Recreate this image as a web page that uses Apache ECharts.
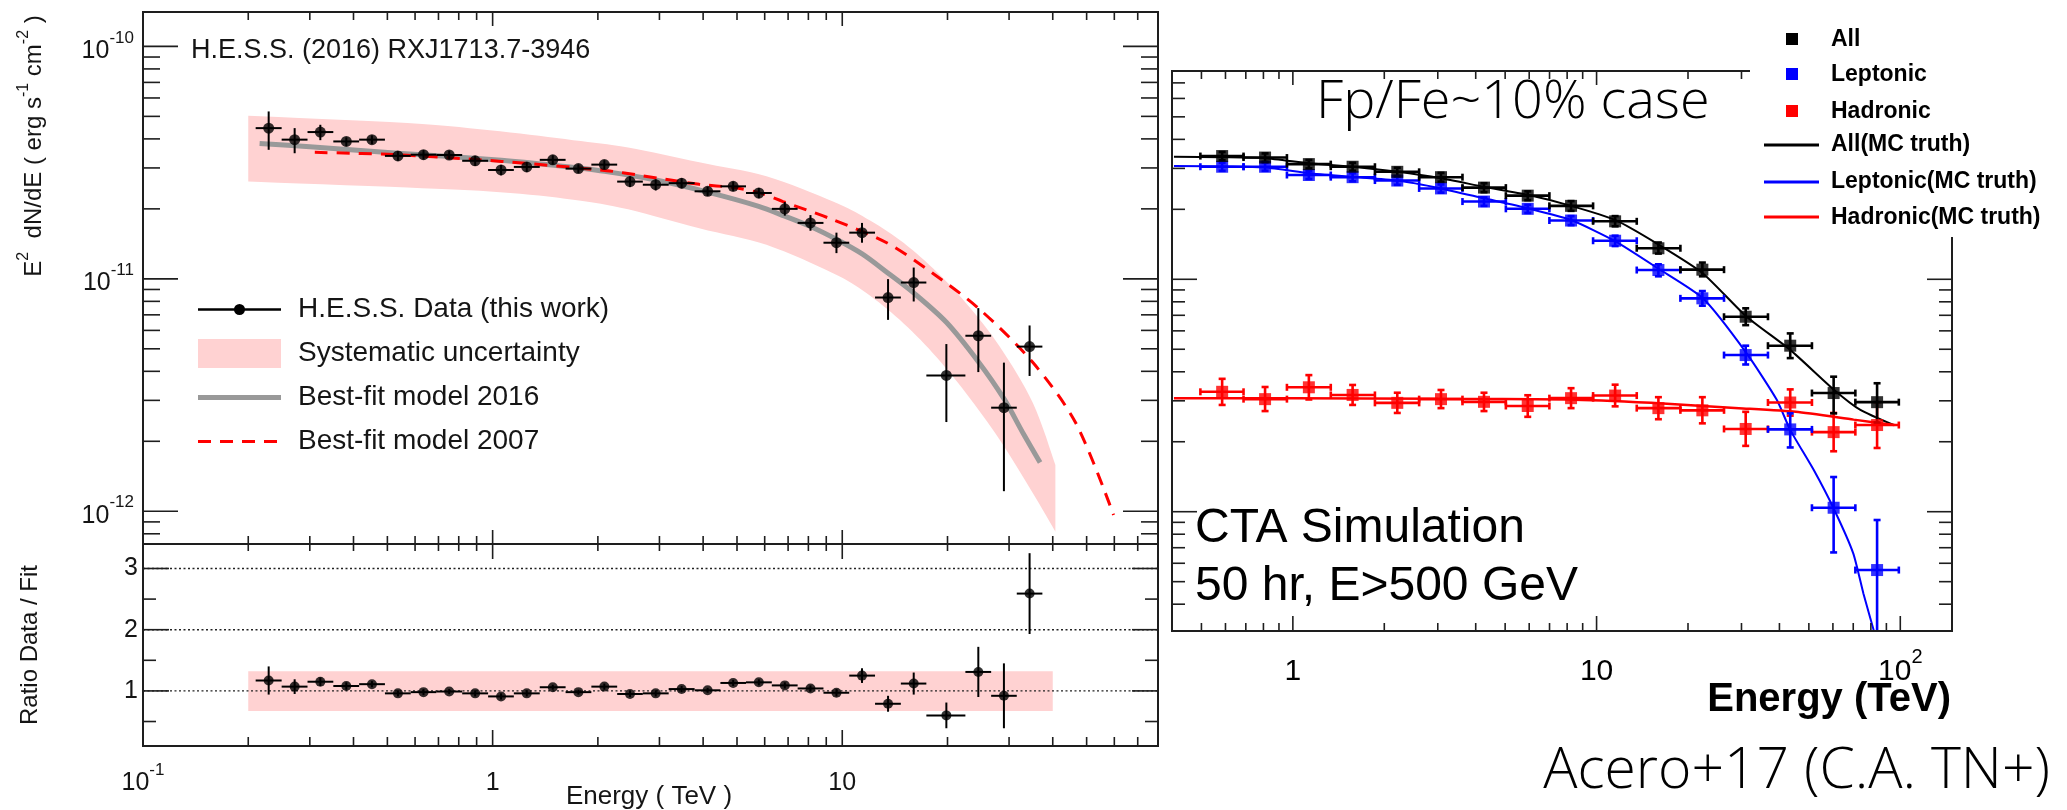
<!DOCTYPE html>
<html>
<head>
<meta charset="utf-8">
<script src="https://cdn.jsdelivr.net/npm/echarts@6.0.0/dist/echarts.min.js"></script>
<style>
html,body{margin:0;padding:0;background:#ffffff;}
#chart{width:2067px;height:810px;}
</style>
</head>
<body>
<div id="chart"></div>
<script>
// ================= DATA =================
// ---- Left: H.E.S.S. (2016) RXJ1713.7-3946, E^2 dN/dE in erg s^-1 cm^-2 ----
const hessE = [0.2288,0.2715,0.3215,0.3815,0.4517,0.5360,0.6343,0.7512,0.8913,1.057,1.252,1.486,1.759,2.087,2.471,2.927,3.472,4.120,4.875,5.773,6.850,8.111,9.625,11.39,13.52,16.01,19.85,24.50,29.00,34.34];
const hessBinEdges = [0.210,0.2492,0.2955,0.3502,0.4151,0.4920,0.5831,0.6903,0.8183,0.9706,1.150,1.364,1.617,1.916,2.271,2.689,3.188,3.782,4.482,5.305,6.288,7.454,8.836,10.47,12.41,14.71,17.40,22.50,26.66,31.56,37.36];
const hessFlux   = [4.45e-11,3.97e-11,4.28e-11,3.90e-11,3.97e-11,3.38e-11,3.42e-11,3.41e-11,3.22e-11,2.94e-11,3.03e-11,3.25e-11,2.98e-11,3.10e-11,2.62e-11,2.54e-11,2.58e-11,2.38e-11,2.50e-11,2.34e-11,2.00e-11,1.74e-11,1.43e-11,1.58e-11,8.31e-12,9.64e-12,3.84e-12,5.69e-12,2.79e-12,5.11e-12];
const hessFluxLo = [3.59e-11,3.47e-11,3.95e-11,3.72e-11,3.80e-11,3.22e-11,3.26e-11,3.26e-11,3.06e-11,2.79e-11,2.88e-11,3.10e-11,2.85e-11,2.96e-11,2.48e-11,2.40e-11,2.45e-11,2.27e-11,2.38e-11,2.22e-11,1.87e-11,1.61e-11,1.29e-11,1.43e-11,6.66e-12,7.99e-12,2.42e-12,3.97e-12,1.22e-12,3.82e-12];
const hessFluxHi = [5.25e-11,4.45e-11,4.60e-11,4.06e-11,4.14e-11,3.54e-11,3.58e-11,3.56e-11,3.38e-11,3.09e-11,3.18e-11,3.40e-11,3.11e-11,3.24e-11,2.76e-11,2.68e-11,2.71e-11,2.49e-11,2.62e-11,2.46e-11,2.14e-11,1.88e-11,1.58e-11,1.74e-11,9.97e-12,1.118e-11,5.24e-12,7.48e-12,4.36e-12,6.30e-12];
const hessRatio    = [1.17,1.07,1.15,1.08,1.11,0.96,0.98,0.99,0.96,0.91,0.96,1.06,0.98,1.07,0.95,0.96,1.03,1.01,1.13,1.14,1.09,1.04,0.97,1.25,0.79,1.12,0.60,1.31,0.92,2.59];
const hessRatioErr = [0.23,0.12,0.07,0.06,0.05,0.05,0.05,0.04,0.05,0.05,0.05,0.04,0.04,0.05,0.05,0.05,0.05,0.04,0.05,0.05,0.05,0.05,0.06,0.12,0.13,0.18,0.21,0.41,0.53,0.66];
const fit2016E = [0.2155,0.30,0.536,1.06,1.50,2.09,2.93,4.12,5.77,6.85,8.11,9.62,11.4,13.5,16.0,19.85,24.5,29.0,33.0,36.8];
const fit2016F = [3.82e-11,3.70e-11,3.47e-11,3.24e-11,3.08e-11,2.90e-11,2.66e-11,2.36e-11,2.05e-11,1.86e-11,1.68e-11,1.48e-11,1.28e-11,1.06e-11,8.7e-12,6.5e-12,4.4e-12,3.05e-12,2.15e-12,1.62e-12];
const fit2007E = [0.31,0.533,1.06,2.12,2.67,3.9,4.88,5.77,6.77,9.37,13.4,18.1,24.8,35.2,46.6,59.7];
const fit2007F = [3.50e-11,3.42e-11,3.20e-11,2.92e-11,2.78e-11,2.55e-11,2.47e-11,2.35e-11,2.15e-11,1.80e-11,1.43e-11,1.06e-11,7.36e-12,4.34e-12,2.39e-12,9.64e-13];
const sysBandE  = [0.2,0.57,1.05,1.7,2.44,3.9,6.07,9.41,11.72,14.6,18.17,22.6,28.2,35.1,40.7];
const sysBandHi = [5.03e-11,4.68e-11,4.31e-11,3.95e-11,3.67e-11,3.17e-11,2.76e-11,2.15e-11,1.82e-11,1.47e-11,1.11e-11,7.86e-12,5.11e-12,2.92e-12,1.58e-12];
const sysBandLo = [2.62e-11,2.47e-11,2.36e-11,2.19e-11,1.99e-11,1.65e-11,1.40e-11,1.058e-11,8.68e-12,6.66e-12,4.79e-12,3.22e-12,2.03e-12,1.195e-12,8.17e-13];
const ratioBandE  = [0.2,40];
const ratioBandLo = [0.67,0.67];
const ratioBandHi = [1.32,1.32];
const ratioRefLevels = [1,2,3];

// ---- Right: CTA simulation (Fp/Fe ~ 10% case) ----
const ctaE = [0.585,0.810,1.129,1.573,2.207,3.074,4.259,5.934,8.241,11.51,15.98,22.30,30.97,43.41,60.33,83.87];
const ctaBinEdges = [0.496,0.688,0.956,1.333,1.863,2.605,3.618,5.027,6.993,9.739,13.56,18.88,26.28,36.67,51.18,71.13,98.9];
const allF  = [3.39e-11,3.34e-11,3.13e-11,3.05e-11,2.90e-11,2.75e-11,2.48e-11,2.29e-11,2.07e-11,1.776e-11,1.36e-11,1.10e-11,6.90e-12,5.18e-12,3.24e-12,2.96e-12];
const allLo = [3.25e-11,3.20e-11,3.00e-11,2.93e-11,2.78e-11,2.63e-11,2.37e-11,2.19e-11,1.97e-11,1.69e-11,1.29e-11,1.03e-11,6.35e-12,4.58e-12,2.65e-12,2.42e-12];
const allHi = [3.53e-11,3.48e-11,3.26e-11,3.17e-11,3.02e-11,2.87e-11,2.59e-11,2.39e-11,2.17e-11,1.87e-11,1.44e-11,1.18e-11,7.50e-12,5.85e-12,3.81e-12,3.57e-12];
const lepF  = [3.05e-11,3.05e-11,2.81e-11,2.75e-11,2.66e-11,2.46e-11,2.16e-11,2.01e-11,1.79e-11,1.465e-11,1.096e-11,8.28e-12,4.72e-12,2.26e-12,1.04e-12,5.61e-13];
const lepLo = [2.93e-11,2.93e-11,2.70e-11,2.64e-11,2.55e-11,2.36e-11,2.07e-11,1.93e-11,1.71e-11,1.39e-11,1.03e-11,7.70e-12,4.30e-12,1.89e-12,6.68e-13,1.0e-13];
const lepHi = [3.17e-11,3.17e-11,2.92e-11,2.86e-11,2.77e-11,2.56e-11,2.25e-11,2.09e-11,1.87e-11,1.54e-11,1.16e-11,8.90e-12,5.18e-12,2.65e-12,1.41e-12,9.21e-13];
const hadF  = [3.28e-12,3.05e-12,3.43e-12,3.18e-12,2.94e-12,3.05e-12,2.97e-12,2.85e-12,3.08e-12,3.16e-12,2.79e-12,2.73e-12,2.27e-12,2.95e-12,2.20e-12,2.36e-12];
const hadLo = [2.88e-12,2.71e-12,3.04e-12,2.88e-12,2.66e-12,2.79e-12,2.71e-12,2.56e-12,2.79e-12,2.84e-12,2.50e-12,2.40e-12,1.92e-12,2.59e-12,1.82e-12,1.88e-12];
const hadHi = [3.73e-12,3.44e-12,3.87e-12,3.51e-12,3.25e-12,3.34e-12,3.25e-12,3.17e-12,3.40e-12,3.52e-12,3.11e-12,3.11e-12,2.69e-12,3.36e-12,2.66e-12,2.96e-12];
const mcAllE = [0.406,0.585,0.81,1.13,1.57,2.21,3.07,4.26,5.93,8.24,11.5,16.0,22.4,31.2,43.4,60.6,73.9,95];
const mcAllF = [3.37e-11,3.35e-11,3.32e-11,3.16e-11,3.05e-11,2.90e-11,2.72e-11,2.50e-11,2.31e-11,2.07e-11,1.80e-11,1.41e-11,1.06e-11,6.90e-12,4.97e-12,3.34e-12,2.74e-12,2.36e-12];
const mcLepE = [0.406,0.81,1.13,1.57,2.21,3.07,4.26,5.93,8.24,11.5,16.0,22.4,31.2,39.2,43.4,51.9,60.6,70.0,75.6,81.7,95];
const mcLepF = [3.07e-11,3.03e-11,2.86e-11,2.76e-11,2.66e-11,2.46e-11,2.23e-11,2.02e-11,1.80e-11,1.46e-11,1.11e-11,8.28e-12,4.80e-12,3.03e-12,2.25e-12,1.51e-12,1.02e-12,6.62e-13,4.45e-13,3.10e-13,1.5e-13];
const mcHadE = [0.406,1.0,3.0,8.0,15.1,29.4,45.3,70.2,95.6];
const mcHadF = [3.08e-12,3.08e-12,3.06e-12,3.04e-12,2.94e-12,2.79e-12,2.69e-12,2.49e-12,2.36e-12];

// ---- tick values ----
const leftXMajor = [0.1,1,10];
const leftXMinor = [0.2,0.3,0.4,0.5,0.6,0.7,0.8,0.9,2,3,4,5,6,7,8,9,20,30,40,50,60,70];
const leftYMajor = [1e-12,1e-11,1e-10];
const leftYMinor = [8e-13,9e-13,2e-12,3e-12,4e-12,5e-12,6e-12,7e-12,8e-12,9e-12,2e-11,3e-11,4e-11,5e-11,6e-11,7e-11,8e-11,9e-11];
const ratioYMajor = [1,2,3];
const ratioYMinor = [0.5,1.5,2.5];
const rightXMajor = [1,10,100];
const rightXMinor = [0.5,0.6,0.7,0.8,0.9,2,3,4,5,6,7,8,9,20,30,40,50,60,70,80,90];
const rightYMajor = [1e-12,1e-11];
const rightYMinor = [4e-13,5e-13,6e-13,7e-13,8e-13,9e-13,2e-12,3e-12,4e-12,5e-12,6e-12,7e-12,8e-12,9e-12,2e-11,3e-11,4e-11,5e-11,6e-11,7e-11];

// ================= RENDERING =================
const UNIT = 1e-12;             // flux plotted in units of 1e-12 erg s^-1 cm^-2
const sc = a => a.map(v => v / UNIT);
const SANS = '"Liberation Sans", Arial, Helvetica, sans-serif';
const THIN = '"Open Sans", Lato, sans-serif';
const INK = '#151515';

function isPow10(v) { const l = Math.log10(v); return Math.abs(l - Math.round(l)) < 1e-6; }
function supLabel(exp, forceBase) {
  if (!forceBase && exp === 0) return '{b|1}';
  if (!forceBase && exp === 1) return '{b|10}';
  return '{b|10}{s|' + (exp < 0 ? '-' : '') + Math.abs(exp) + '}';
}

// Catmull-Rom smoothing of pixel points (rendering only)
function smoothPts(p, n) {
  if (p.length < 3) return p.slice();
  const out = [];
  for (let i = 0; i < p.length - 1; i++) {
    const p0 = p[Math.max(i - 1, 0)], p1 = p[i], p2 = p[i + 1], p3 = p[Math.min(i + 2, p.length - 1)];
    for (let k = 0; k < n; k++) {
      const t = k / n, t2 = t * t, t3 = t2 * t;
      const f = j => 0.5 * (2 * p1[j] + (-p0[j] + p2[j]) * t + (2 * p0[j] - 5 * p1[j] + 4 * p2[j] - p3[j]) * t2 + (-p0[j] + 3 * p1[j] - 3 * p2[j] + p3[j]) * t3);
      out.push([f(0), f(1)]);
    }
  }
  out.push(p[p.length - 1]);
  return out;
}

function errorBars(ax, xs, ys, xLo, xHi, yLo, yHi, color, width, cap, z) {
  return {
    type: 'custom', xAxisIndex: ax, yAxisIndex: ax, z: z, silent: true,
    encode: {x: 0, y: 1},
    data: xs.map((x, i) => [x, ys[i], xLo[i], xHi[i], yLo[i], yHi[i]]),
    renderItem: function (params, api) {
      const cs = params.coordSys;
      const top = cs.y, bot = cs.y + cs.height;
      const x = api.value(0), y = api.value(1);
      const c = api.coord([x, y]);
      const l = api.coord([api.value(2), y])[0];
      const r = api.coord([api.value(3), y])[0];
      let u = api.coord([x, api.value(5)])[1];
      let d = api.coord([x, api.value(4)])[1];
      const uIn = u >= top, dIn = d <= bot;
      u = Math.max(u, top); d = Math.min(d, bot);
      const st = {stroke: color, lineWidth: width};
      const ch = [
        {type: 'line', shape: {x1: l, y1: c[1], x2: r, y2: c[1]}, style: st},
        {type: 'line', shape: {x1: c[0], y1: u, x2: c[0], y2: d}, style: st}
      ];
      if (cap) {
        ch.push({type: 'line', shape: {x1: l, y1: c[1] - cap, x2: l, y2: c[1] + cap}, style: st});
        ch.push({type: 'line', shape: {x1: r, y1: c[1] - cap, x2: r, y2: c[1] + cap}, style: st});
        if (uIn) ch.push({type: 'line', shape: {x1: c[0] - cap, y1: u, x2: c[0] + cap, y2: u}, style: st});
        if (dIn) ch.push({type: 'line', shape: {x1: c[0] - cap, y1: d, x2: c[0] + cap, y2: d}, style: st});
      }
      return {type: 'group', children: ch};
    }
  };
}

function bandSeries(ax, xs, lo, hi, color, z) {
  return {
    type: 'custom', xAxisIndex: ax, yAxisIndex: ax, z: z, silent: true,
    encode: {x: 0, y: 1},
    data: [[xs[0], lo[0]]],
    renderItem: function (params, api) {
      const up = smoothPts(xs.map((x, i) => api.coord([x, hi[i]])), 8);
      const dn = smoothPts(xs.map((x, i) => api.coord([x, lo[i]])), 8);
      const pts = up.concat(dn.reverse());
      return {type: 'polygon', shape: {points: pts}, style: {fill: color, stroke: 'none'}};
    }
  };
}

function frameTicks(ax, refX, refY, xMaj, xMin, yMaj, yMin, L, z) {
  return {
    type: 'custom', xAxisIndex: ax, yAxisIndex: ax, z: z, silent: true,
    encode: {x: 0, y: 1},
    data: [[refX, refY]],
    renderItem: function (params, api) {
      const cs = params.coordSys;
      const x0 = cs.x, x1 = cs.x + cs.width, y0 = cs.y, y1 = cs.y + cs.height;
      const ch = [];
      const st = {stroke: '#1e1e1e', lineWidth: 1.6};
      const seg = (a, b, c, d) => ch.push({type: 'line', shape: {x1: a, y1: b, x2: c, y2: d}, style: st});
      const xt = (vals, lt, lb) => vals.forEach(v => {
        const px = api.coord([v, refY])[0];
        if (px < x0 + 1 || px > x1 - 1) return;
        seg(px, y0, px, y0 + lt); seg(px, y1, px, y1 - lb);
      });
      const yt = (vals, len) => vals.forEach(v => {
        const py = api.coord([refX, v])[1];
        if (py < y0 + 1 || py > y1 - 1) return;
        seg(x0, py, x0 + len, py); seg(x1, py, x1 - len, py);
      });
      xt(xMaj, L.xMajT, L.xMajB); xt(xMin, L.xMinT, L.xMinB);
      yt(yMaj, L.yMaj); yt(yMin, L.yMin);
      ch.push({type: 'rect', shape: {x: x0, y: y0, width: cs.width, height: cs.height},
               style: {fill: 'none', stroke: '#1e1e1e', lineWidth: 2}});
      return {type: 'group', children: ch};
    }
  };
}

function dottedLevels(ax, levels, refX, z) {
  return {
    type: 'custom', xAxisIndex: ax, yAxisIndex: ax, z: z, silent: true,
    encode: {x: 0, y: 1},
    data: levels.map(l => [refX, l]),
    renderItem: function (params, api) {
      const cs = params.coordSys;
      const py = api.coord([api.value(0), api.value(1)])[1];
      return {type: 'line', shape: {x1: cs.x, y1: py, x2: cs.x + cs.width, y2: py},
              style: {stroke: '#222', lineWidth: 1.4, lineDash: [2, 2.5]}};
    }
  };
}

const baseAxis = {
  axisLine: {show: false}, axisTick: {show: false}, splitLine: {show: false}, minorTick: {show: false}
};

const richSmall = {
  b: {fontFamily: SANS, fontSize: 25, color: INK, lineHeight: 34, verticalAlign: 'bottom'},
  s: {fontFamily: SANS, fontSize: 17, color: INK, lineHeight: 17, verticalAlign: 'top'}
};
const richBig = {
  b: {fontFamily: SANS, fontSize: 30, color: '#000', lineHeight: 40, verticalAlign: 'bottom'},
  s: {fontFamily: SANS, fontSize: 20, color: '#000', lineHeight: 20, verticalAlign: 'top'}
};

const option = {
  animation: false,
  backgroundColor: '#ffffff',
  grid: [
    {left: 143, top: 12, width: 1015, height: 532},
    {left: 143, top: 544, width: 1015, height: 202},
    {left: 1172, top: 71, width: 780, height: 560}
  ],
  xAxis: [
    Object.assign({gridIndex: 0, type: 'log', logBase: 10, min: 0.1, max: 80, axisLabel: {show: false}}, baseAxis),
    Object.assign({gridIndex: 1, type: 'log', logBase: 10, min: 0.1, max: 80,
      axisLabel: {margin: 16, formatter: v => isPow10(v) ? supLabel(Math.round(Math.log10(v)), false) : '', rich: richSmall}}, baseAxis),
    Object.assign({gridIndex: 2, type: 'log', logBase: 10, min: 0.4, max: 148,
      axisLabel: {margin: 16, formatter: v => isPow10(v) ? supLabel(Math.round(Math.log10(v)), false) : '', rich: richBig}}, baseAxis)
  ],
  yAxis: [
    Object.assign({gridIndex: 0, type: 'log', logBase: 10, min: 0.723, max: 140.6,
      axisLabel: {margin: 9, formatter: v => isPow10(v) ? supLabel(Math.round(Math.log10(v * UNIT)), true) : '', rich: richSmall}}, baseAxis),
    Object.assign({gridIndex: 1, type: 'value', min: 0.1, max: 3.4, interval: 0.1,
      axisLabel: {margin: 5, fontFamily: SANS, fontSize: 25, color: INK,
        formatter: v => (Math.abs(v - Math.round(v)) < 1e-6 && v >= 1) ? String(Math.round(v)) : ''}}, baseAxis),
    Object.assign({gridIndex: 2, type: 'log', logBase: 10, min: 0.3067, max: 78.74, axisLabel: {show: false}}, baseAxis)
  ],
  series: [
    // ---- left top panel ----
    bandSeries(0, sysBandE, sc(sysBandLo), sc(sysBandHi), '#ffd2d2', 1),
    {type: 'line', xAxisIndex: 0, yAxisIndex: 0, z: 2, silent: true, showSymbol: false, smooth: 0.3,
     data: fit2016E.map((e, i) => [e, fit2016F[i] / UNIT]), lineStyle: {color: '#999999', width: 5}},
    {type: 'line', xAxisIndex: 0, yAxisIndex: 0, z: 3, silent: true, showSymbol: false, smooth: 0.3,
     data: fit2007E.map((e, i) => [e, fit2007F[i] / UNIT]), lineStyle: {color: '#ff0000', width: 3, type: [13, 9]}},
    errorBars(0, hessE, sc(hessFlux), hessBinEdges.slice(0, -1), hessBinEdges.slice(1), sc(hessFluxLo), sc(hessFluxHi), '#000', 2, 0, 4),
    {type: 'scatter', xAxisIndex: 0, yAxisIndex: 0, z: 5, silent: true, symbol: 'circle', symbolSize: 11,
     itemStyle: {color: '#000'}, data: hessE.map((e, i) => [e, hessFlux[i] / UNIT])},
    frameTicks(0, 1, 10, leftXMajor, leftXMinor, sc(leftYMajor), sc(leftYMinor),
      {xMajT: 14, xMajB: 14, xMinT: 8, xMinB: 8, yMaj: 35, yMin: 17}, 6),
    // ---- left ratio panel ----
    bandSeries(1, ratioBandE, ratioBandLo, ratioBandHi, '#ffd2d2', 1),
    dottedLevels(1, ratioRefLevels, 1, 2),
    errorBars(1, hessE, hessRatio, hessBinEdges.slice(0, -1), hessBinEdges.slice(1),
      hessRatio.map((r, i) => r - hessRatioErr[i]), hessRatio.map((r, i) => r + hessRatioErr[i]), '#000', 2, 0, 4),
    {type: 'scatter', xAxisIndex: 1, yAxisIndex: 1, z: 5, silent: true, symbol: 'circle', symbolSize: 10,
     itemStyle: {color: '#000'}, data: hessE.map((e, i) => [e, hessRatio[i]])},
    frameTicks(1, 1, 1, leftXMajor, leftXMinor, ratioYMajor, ratioYMinor,
      {xMajT: 15, xMajB: 16, xMinT: 7, xMinB: 9, yMaj: 26, yMin: 13}, 6),
    // ---- right panel ----
    {type: 'line', xAxisIndex: 2, yAxisIndex: 2, z: 2, silent: true, showSymbol: false, smooth: 0.2,
     data: mcAllE.map((e, i) => [e, mcAllF[i] / UNIT]), lineStyle: {color: '#000', width: 2}},
    {type: 'line', xAxisIndex: 2, yAxisIndex: 2, z: 2, silent: true, showSymbol: false, smooth: 0.2,
     data: mcLepE.map((e, i) => [e, mcLepF[i] / UNIT]), lineStyle: {color: '#0000ff', width: 2}},
    {type: 'line', xAxisIndex: 2, yAxisIndex: 2, z: 2, silent: true, showSymbol: false, smooth: 0.2,
     data: mcHadE.map((e, i) => [e, mcHadF[i] / UNIT]), lineStyle: {color: '#ff0000', width: 2.5}},
    errorBars(2, ctaE, sc(hadF), ctaBinEdges.slice(0, -1), ctaBinEdges.slice(1), sc(hadLo), sc(hadHi), '#ff0000', 2.6, 3.5, 3),
    errorBars(2, ctaE, sc(lepF), ctaBinEdges.slice(0, -1), ctaBinEdges.slice(1), sc(lepLo), sc(lepHi), '#0000ff', 2.6, 3.5, 3),
    errorBars(2, ctaE, sc(allF), ctaBinEdges.slice(0, -1), ctaBinEdges.slice(1), sc(allLo), sc(allHi), '#000000', 2.6, 3.5, 3),
    {type: 'scatter', xAxisIndex: 2, yAxisIndex: 2, z: 4, silent: true, symbol: 'rect', symbolSize: 12,
     itemStyle: {color: '#ff0000'}, data: ctaE.map((e, i) => [e, hadF[i] / UNIT])},
    {type: 'scatter', xAxisIndex: 2, yAxisIndex: 2, z: 4, silent: true, symbol: 'rect', symbolSize: 12,
     itemStyle: {color: '#0000ff'}, data: ctaE.map((e, i) => [e, lepF[i] / UNIT])},
    {type: 'scatter', xAxisIndex: 2, yAxisIndex: 2, z: 4, silent: true, symbol: 'rect', symbolSize: 12,
     itemStyle: {color: '#000000'}, data: ctaE.map((e, i) => [e, allF[i] / UNIT])},
    frameTicks(2, 1, 10, rightXMajor, rightXMinor, sc(rightYMajor), sc(rightYMinor),
      {xMajT: 14, xMajB: 15, xMinT: 8, xMinB: 8, yMaj: 25, yMin: 13}, 6)
  ],
  graphic: [
    // left panel texts
    {type: 'text', x: 191, y: 51, z: 50, style: {text: 'H.E.S.S. (2016) RXJ1713.7-3946', fontFamily: SANS, fontSize: 27, fill: INK,
      textAlign: 'left', textVerticalAlign: 'middle', align: 'left', verticalAlign: 'middle'}},
    {type: 'text', x: 31, y: 146, z: 50, rotation: Math.PI / 2,
      style: {text: '{b|E}{s|2}{b|  dN/dE ( erg s}{s|-1}{b| cm}{s|-2}{b| )}', fill: INK,
        textAlign: 'center', textVerticalAlign: 'middle', align: 'center', verticalAlign: 'middle',
        rich: {b: {fontFamily: SANS, fontSize: 24, fill: INK, color: INK, lineHeight: 30, verticalAlign: 'bottom'},
               s: {fontFamily: SANS, fontSize: 16, fill: INK, color: INK, lineHeight: 16, verticalAlign: 'top'}}}},
    {type: 'text', x: 30, y: 645, z: 50, rotation: Math.PI / 2,
      style: {text: 'Ratio Data / Fit', fontFamily: SANS, fontSize: 24, fill: INK,
        textAlign: 'center', textVerticalAlign: 'middle', align: 'center', verticalAlign: 'middle'}},
    {type: 'text', x: 649, y: 797, z: 50,
      style: {text: 'Energy ( TeV )', fontFamily: SANS, fontSize: 26, fill: INK,
        textAlign: 'center', textVerticalAlign: 'middle', align: 'center', verticalAlign: 'middle'}},
    // left legend
    {type: 'line', z: 50, shape: {x1: 198, y1: 309.5, x2: 281, y2: 309.5}, style: {stroke: '#000', lineWidth: 2.5}},
    {type: 'circle', z: 51, shape: {cx: 239.5, cy: 309.5, r: 5.5}, style: {fill: '#000'}},
    {type: 'rect', z: 50, shape: {x: 198, y: 339, width: 83, height: 29}, style: {fill: '#ffd2d2'}},
    {type: 'line', z: 50, shape: {x1: 198, y1: 397.5, x2: 281, y2: 397.5}, style: {stroke: '#999999', lineWidth: 5}},
    {type: 'line', z: 50, shape: {x1: 198, y1: 441.4, x2: 281, y2: 441.4}, style: {stroke: '#ff0000', lineWidth: 3, lineDash: [13, 9]}},
    {type: 'text', x: 298, y: 309.5, z: 50, style: {text: 'H.E.S.S. Data (this work)', fontFamily: SANS, fontSize: 28, fill: INK, textVerticalAlign: 'middle', verticalAlign: 'middle'}},
    {type: 'text', x: 298, y: 353.7, z: 50, style: {text: 'Systematic uncertainty', fontFamily: SANS, fontSize: 28, fill: INK, textVerticalAlign: 'middle', verticalAlign: 'middle'}},
    {type: 'text', x: 298, y: 397.5, z: 50, style: {text: 'Best-fit model 2016', fontFamily: SANS, fontSize: 28, fill: INK, textVerticalAlign: 'middle', verticalAlign: 'middle'}},
    {type: 'text', x: 298, y: 441.4, z: 50, style: {text: 'Best-fit model 2007', fontFamily: SANS, fontSize: 28, fill: INK, textVerticalAlign: 'middle', verticalAlign: 'middle'}},
    // right panel: legend box (covers frame corner)
    {type: 'rect', z: 100, shape: {x: 1750, y: 0, width: 317, height: 237}, style: {fill: '#ffffff'}},
    {type: 'rect', z: 101, shape: {x: 1786, y: 33, width: 12, height: 12}, style: {fill: '#000000'}},
    {type: 'rect', z: 101, shape: {x: 1786, y: 68, width: 12, height: 12}, style: {fill: '#0000ff'}},
    {type: 'rect', z: 101, shape: {x: 1786, y: 105, width: 12, height: 12}, style: {fill: '#ff0000'}},
    {type: 'line', z: 101, shape: {x1: 1764, y1: 145, x2: 1819, y2: 145}, style: {stroke: '#000000', lineWidth: 3}},
    {type: 'line', z: 101, shape: {x1: 1764, y1: 182, x2: 1819, y2: 182}, style: {stroke: '#0000ff', lineWidth: 3}},
    {type: 'line', z: 101, shape: {x1: 1764, y1: 217, x2: 1819, y2: 217}, style: {stroke: '#ff0000', lineWidth: 3}},
    {type: 'text', x: 1831, y: 40, z: 101, style: {text: 'All', fontFamily: SANS, fontWeight: 'bold', fontSize: 23, fill: '#000', textVerticalAlign: 'middle', verticalAlign: 'middle'}},
    {type: 'text', x: 1831, y: 75, z: 101, style: {text: 'Leptonic', fontFamily: SANS, fontWeight: 'bold', fontSize: 23, fill: '#000', textVerticalAlign: 'middle', verticalAlign: 'middle'}},
    {type: 'text', x: 1831, y: 112, z: 101, style: {text: 'Hadronic', fontFamily: SANS, fontWeight: 'bold', fontSize: 23, fill: '#000', textVerticalAlign: 'middle', verticalAlign: 'middle'}},
    {type: 'text', x: 1831, y: 145, z: 101, style: {text: 'All(MC truth)', fontFamily: SANS, fontWeight: 'bold', fontSize: 23, fill: '#000', textVerticalAlign: 'middle', verticalAlign: 'middle'}},
    {type: 'text', x: 1831, y: 182, z: 101, style: {text: 'Leptonic(MC truth)', fontFamily: SANS, fontWeight: 'bold', fontSize: 23, fill: '#000', textVerticalAlign: 'middle', verticalAlign: 'middle'}},
    {type: 'text', x: 1831, y: 218, z: 101, style: {text: 'Hadronic(MC truth)', fontFamily: SANS, fontWeight: 'bold', fontSize: 23, fill: '#000', textVerticalAlign: 'middle', verticalAlign: 'middle'}},
    // right panel annotations
    {type: 'text', x: 1316, y: 103, z: 60, style: {text: 'Fp/Fe~10% case', fontFamily: THIN, fontWeight: 300, fontSize: 54, fill: '#000', textVerticalAlign: 'middle', verticalAlign: 'middle'}},
    {type: 'text', x: 1195, y: 529, z: 60, style: {text: 'CTA Simulation', fontFamily: SANS, fontSize: 48, fill: '#000', textVerticalAlign: 'middle', verticalAlign: 'middle'}},
    {type: 'text', x: 1195, y: 587, z: 60, style: {text: '50 hr, E>500 GeV', fontFamily: SANS, fontSize: 48, fill: '#000', textVerticalAlign: 'middle', verticalAlign: 'middle'}},
    {type: 'text', x: 1951, y: 700, z: 60, style: {text: 'Energy (TeV)', fontFamily: SANS, fontWeight: 'bold', fontSize: 40, fill: '#000', textAlign: 'right', align: 'right', textVerticalAlign: 'middle', verticalAlign: 'middle'}},
    {type: 'text', x: 2050, y: 772, z: 60, style: {text: 'Acero+17 (C.A. TN+)', fontFamily: THIN, fontWeight: 300, fontSize: 57, fill: '#000', textAlign: 'right', align: 'right', textVerticalAlign: 'middle', verticalAlign: 'middle'}}
  ]
};

const chart = echarts.init(document.getElementById('chart'), null, {renderer: 'canvas', width: 2067, height: 810});
chart.setOption(option);
</script>
</body>
</html>
